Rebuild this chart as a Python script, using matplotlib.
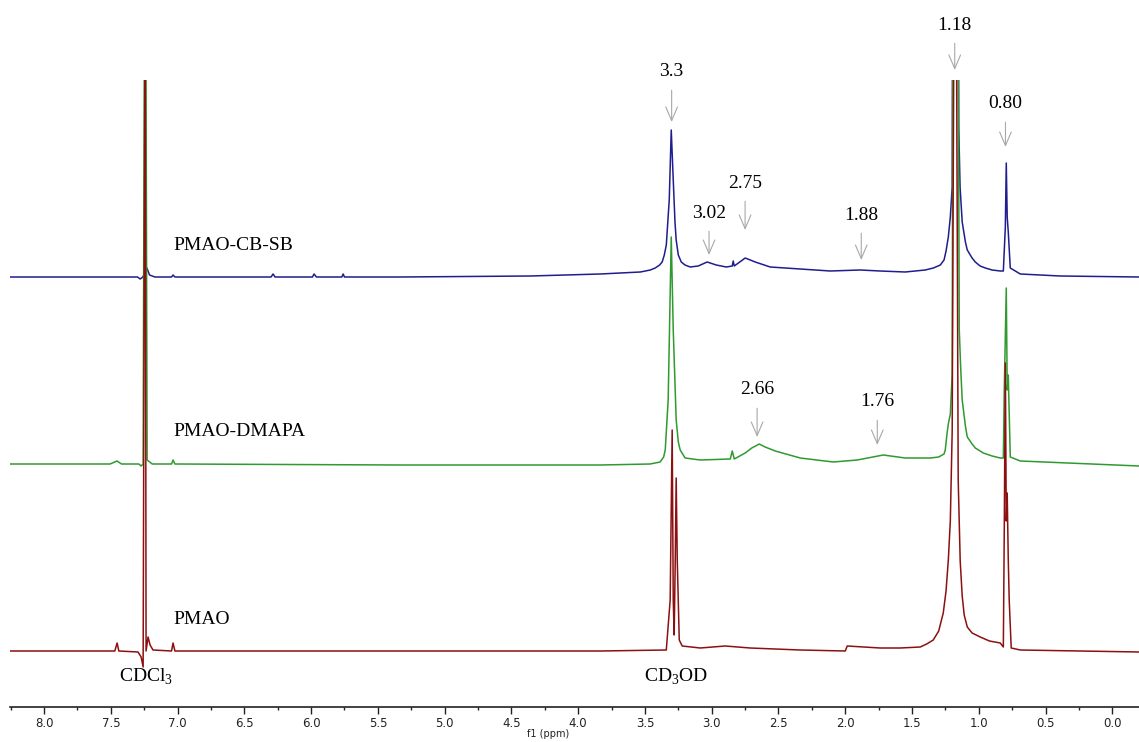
import numpy as np
import matplotlib
matplotlib.use("Agg")
import matplotlib.pyplot as plt
from matplotlib.ticker import MultipleLocator

plt.rcParams["mathtext.fontset"] = "custom"
plt.rcParams["mathtext.rm"] = "Liberation Serif"

# 1H NMR traces (ppm, intensity above own baseline)
blue_ppm = [8.255, 7.36, 7.30, 7.28, 7.26, 7.23, 7.21, 7.17, 7.045, 7.034, 7.02,
            6.30, 6.285, 6.27, 5.99, 5.978, 5.96, 5.77, 5.76, 5.75, 5.33, 4.36,
            3.835, 3.534, 3.46, 3.423, 3.39, 3.371, 3.355, 3.340, 3.318, 3.303,
            3.288, 3.275, 3.266, 3.25, 3.228, 3.20,
            3.161, 3.101, 3.034, 2.966, 2.891, 2.846, 2.839, 2.831, 2.749, 2.674,
            2.562, 2.337, 2.112, 1.888, 1.738, 1.551, 1.401, 1.34, 1.288, 1.26,
            1.245, 1.228, 1.213, 1.199, 1.19, 1.161, 1.15, 1.14, 1.124, 1.10,
            1.086, 1.05, 1.026, 0.99, 0.951, 0.90, 0.839, 0.816,
            0.801, 0.794, 0.787, 0.779, 0.764, 0.689, 0.390, -0.202]
blue_int = [0, 0, 0, -2, 0, 9, 2, 0, 0, 2, 0,
            0, 3, 0, 0, 3, 0, 0, 3, 0, 0, 1,
            3, 5, 7, 9, 12, 15, 22, 32, 77, 147,
            97, 55, 37, 22, 15, 12,
            10, 11, 15, 12, 10, 11, 16, 11, 19, 15,
            10, 8, 6, 7, 6, 5, 7, 9, 12, 17,
            26, 40, 60, 90, 700, 700, 150, 90, 55, 35,
            27, 19, 15, 11, 9, 7, 6, 6,
            50, 114, 60, 45, 9, 3, 1, 0]

green_ppm = [8.255, 7.506, 7.453, 7.42, 7.29, 7.273, 7.258, 7.243, 7.228, 7.19,
             7.045, 7.034, 7.02, 5.333, 3.835, 3.461, 3.386, 3.36, 3.348, 3.326,
             3.303, 3.288, 3.266, 3.25, 3.236, 3.199, 3.086, 2.861, 2.846, 2.831,
             2.749, 2.70, 2.644, 2.60, 2.524, 2.337, 2.090, 1.910, 1.715, 1.551,
             1.363, 1.30, 1.26, 1.251, 1.238, 1.228, 1.213, 1.199, 1.19, 1.161,
             1.146, 1.135, 1.124, 1.10, 1.086, 1.05, 1.026, 0.966, 0.90, 0.839,
             0.816, 0.809, 0.794, 0.787, 0.779, 0.764, 0.689, -0.202]
green_int = [0, 0, 3, 0, 0, -2, 0, 700, 4, 0,
             0, 4, 0, -1, -1, 0, 2, 7, 14, 64,
             227, 134, 44, 22, 14, 6, 4, 5, 13, 5,
             11, 16, 20, 17, 13, 6, 2, 4, 9, 6,
             6, 7, 10, 14, 30, 40, 50, 90, 700, 700,
             134, 95, 64, 38, 27, 20, 16, 11, 8, 6,
             6, 74, 176, 74, 89, 7, 3, -2]

red_ppm = [8.255, 7.47, 7.453, 7.44, 7.296, 7.273, 7.258, 7.243, 7.236, 7.221,
           7.206, 7.184, 7.045, 7.034, 7.02, 5.333, 3.835, 3.340, 3.311, 3.296,
           3.288, 3.281, 3.273, 3.266, 3.258, 3.243, 3.221, 3.086, 2.899, 2.712,
           2.337, 2.000, 1.985, 1.738, 1.588, 1.438, 1.39, 1.341, 1.30, 1.266,
           1.245, 1.228, 1.213, 1.199, 1.184, 1.169, 1.154, 1.139, 1.124, 1.109,
           1.086, 1.05, 0.989, 0.92, 0.839, 0.816,
           0.809, 0.801, 0.794, 0.787, 0.779, 0.772, 0.757, 0.689, -0.202]
red_int = [0, 0, 8, 0, -1, -6, -16, 700, 0, 14,
           6, 1, 0, 8, 0, 0, 0, 1, 51, 221,
           51, 16, 91, 173, 91, 11, 5, 3, 5, 3,
           1, 0, 5, 3, 3, 4, 7, 11, 20, 38,
           60, 91, 130, 220, 700, 700, 171, 90, 55, 36,
           24, 18, 14, 10, 8, 4,
           121, 288, 130, 158, 91, 51, 3, 1, -1]

names = ["PMAO-CB-SB", "PMAO-DMAPA", "PMAO"]
colors = ["#1e1e8e", "#2f9a2f", "#8c1010"]
offsets = [430, 243, 56]

# peak annotations: label, ppm, text height, arrow tip height
peak_labels = ["3.3", "1.18", "0.80", "3.02", "2.75", "1.88", "2.66", "1.76"]
peak_ppm = [3.30, 1.18, 0.80, 3.02, 2.75, 1.88, 2.66, 1.76]
peak_text_y = [635, 682, 603, 494, 524, 492, 317, 305]
peak_tip_y = [585, 637, 560, 452, 477, 447, 270, 262]

fig = plt.figure(figsize=(11.39, 7.42), dpi=100)
ax = fig.add_axes([10 / 1139, 35 / 742, 1 - 10 / 1139, (707 - 80) / 742])

traces = [(blue_ppm, blue_int), (green_ppm, green_int), (red_ppm, red_int)]
for (x, y), c, off in zip(traces, colors, offsets):
    ax.plot(x, np.array(y) + off, color=c, lw=1.1)

ax.set_xlim(8.255, -0.20)
ax.set_ylim(0, 627)

serif = "Liberation Serif"
for name, off in zip(names, offsets):
    ax.text(7.035, off + 32, name, family=serif, fontsize=14,
            ha="left", va="center")

ax.text(7.24, 30, r"CDCl$_\mathregular{3}$", family=serif, fontsize=14,
        ha="center", va="center")
ax.text(3.27, 30, r"CD$_\mathregular{3}$OD", family=serif, fontsize=14,
        ha="center", va="center")

for lab, p, ty, tip in zip(peak_labels, peak_ppm, peak_text_y, peak_tip_y):
    ax.annotate(lab, xy=(p, tip), xytext=(p, ty), family=serif, fontsize=14,
                ha="center", va="center", annotation_clip=False,
                arrowprops=dict(arrowstyle="->,head_length=0.7,head_width=0.3",
                                color="#a8a8a8", lw=0.8, shrinkA=5, shrinkB=0))

for s in ["top", "left", "right"]:
    ax.spines[s].set_visible(False)
ax.spines["bottom"].set_linewidth(1.2)
ax.spines["bottom"].set_color("#222222")
ax.set_yticks([])
ax.xaxis.set_minor_locator(MultipleLocator(0.25))
ticks = np.arange(0, 8.01, 0.5)
ax.set_xticks(ticks)
ax.set_xticklabels([f"{t:.1f}" for t in ticks])
ax.tick_params(axis="x", which="major", length=5, width=1, direction="out",
               labelsize=8.5, pad=2, colors="#222222")
ax.tick_params(axis="x", which="minor", length=2.5, width=1, direction="out",
               colors="#222222")

fig.text(548 / 1139, 1 - 734 / 742, "f1 (ppm)", fontsize=7, ha="center",
         va="center", color="#222222")

fig.savefig("out.png", dpi=100)
